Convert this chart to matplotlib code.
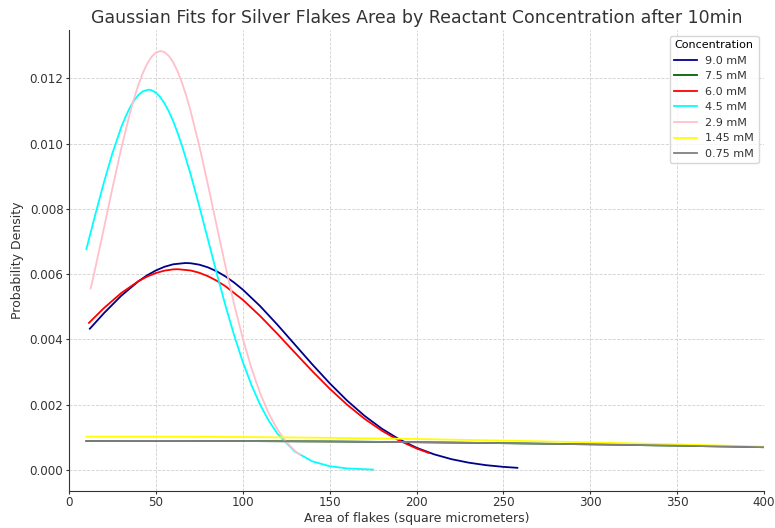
import numpy as np
import matplotlib
matplotlib.use("Agg")
import matplotlib.pyplot as plt

# values (area in square micrometers, density)
x_90 = [12, 20, 30, 40, 45, 50, 55, 60, 67, 70, 75, 80, 85, 90, 95, 100, 110, 120, 130,
        140, 150, 160, 170, 180, 190, 200, 210, 220, 230, 240, 250, 258]
y_90 = [0.004326, 0.004796, 0.005333, 0.005782, 0.005964, 0.006112, 0.006226, 0.006301,
        0.006340, 0.006333, 0.006289, 0.006206, 0.006086, 0.005930, 0.005742, 0.005525,
        0.005019, 0.004445, 0.003839, 0.003233, 0.002655, 0.002125, 0.001659, 0.001263,
        0.000937, 0.000678, 0.000478, 0.000329, 0.000221, 0.000144, 0.000092, 0.000063]

x_60 = [11.5, 20, 30, 40, 45, 50, 55, 60, 62.7, 70, 75, 80, 85, 90, 100, 110, 120, 130,
        140, 150, 160, 170, 180, 190, 200, 207]
y_60 = [0.004505, 0.004953, 0.005417, 0.005785, 0.005925, 0.006033, 0.006107, 0.006145,
        0.006150, 0.006111, 0.006041, 0.005935, 0.005797, 0.005629, 0.005214, 0.004716,
        0.004165, 0.003592, 0.003026, 0.002489, 0.001999, 0.001568, 0.001201, 0.000898,
        0.000656, 0.000519]

x_45 = [10, 15, 20, 25, 30, 32.5, 35, 37.5, 40, 42.5, 45.7, 47.5, 50, 52.5, 55, 57.5, 60,
        62.5, 65, 70, 75, 80, 85, 90, 95, 100, 105, 110, 115, 120, 130, 140, 150, 160, 175]
y_45 = [0.006765, 0.007795, 0.008791, 0.009706, 0.010490, 0.010818, 0.011097, 0.011324,
        0.011493, 0.011602, 0.011653, 0.011637, 0.011561, 0.011425, 0.011231, 0.010981,
        0.010679, 0.010331, 0.009941, 0.009058, 0.008079, 0.007054, 0.006028, 0.005043,
        0.004131, 0.003311, 0.002599, 0.001996, 0.001501, 0.001105, 0.000561, 0.000262,
        0.000112, 0.000044, 0.000009]

x_29 = [12.5, 15, 20, 25, 30, 35, 37.5, 40, 42.5, 45, 47.5, 50, 52.7, 55, 57.5, 60, 62.5,
        65, 67.5, 70, 75, 80, 85, 90, 95, 100, 105, 110, 115, 120, 125, 130, 133]
y_29 = [0.005561, 0.006151, 0.007380, 0.008629, 0.009832, 0.010915, 0.011390, 0.011809,
        0.012164, 0.012449, 0.012659, 0.012789, 0.012837, 0.012802, 0.012685, 0.012488,
        0.012214, 0.011870, 0.011461, 0.010995, 0.009924, 0.008729, 0.007480, 0.006247,
        0.005084, 0.004032, 0.003116, 0.002347, 0.001722, 0.001231, 0.000858, 0.000582,
        0.000456]

x_wide = [10, 50, 100, 150, 200, 250, 300, 350, 400]
y_145 = [0.001019, 0.001019, 0.001007, 0.000982, 0.000946, 0.000898, 0.000843, 0.000780, 0.000713]
y_075 = [0.000885, 0.000888, 0.000884, 0.000870, 0.000848, 0.000819, 0.000783, 0.000742, 0.000695]
# 7.5 mM is not visible in the reference; it sits under the 0.75 mM line
y_75 = [0.000885, 0.000888, 0.000884, 0.000870, 0.000848, 0.000819, 0.000783, 0.000742, 0.000695]

series = [
    ("9.0 mM", x_90, y_90, "darkblue"),
    ("7.5 mM", x_wide, y_75, "darkgreen"),
    ("6.0 mM", x_60, y_60, "red"),
    ("4.5 mM", x_45, y_45, "cyan"),
    ("2.9 mM", x_29, y_29, "pink"),
    ("1.45 mM", x_wide, y_145, "yellow"),
    ("0.75 mM", x_wide, y_075, "gray"),
]

fig, ax = plt.subplots(figsize=(7.75, 5.28), dpi=100)
fig.subplots_adjust(left=0.089, right=0.986, top=0.943, bottom=0.071)

for label, xs, ys, color in series:
    ax.plot(xs, ys, color=color, linewidth=1.3, label=label)

ax.set_xlim(0, 400)
ax.set_title("Gaussian Fits for Silver Flakes Area by Reactant Concentration after 10min",
             fontsize=12.5, color="#333333", pad=5)
ax.set_xlabel("Area of flakes (square micrometers)", fontsize=9, color="#333333", labelpad=2)
ax.set_ylabel("Probability Density", fontsize=9, color="#333333", labelpad=4)
ax.tick_params(labelsize=8.6, colors="#333333", length=2, pad=2)
ax.grid(True, linestyle="--", linewidth=0.6, color="#d0d0d0")
for side in ["top", "right"]:
    ax.spines[side].set_visible(False)
ax.spines["left"].set_color("#333333")
ax.spines["bottom"].set_color("#333333")

leg = ax.legend(title="Concentration", loc="upper right", fontsize=8, title_fontsize=8)
for t in leg.get_texts():
    t.set_color("#333333")

plt.savefig("out.png", dpi=100)
